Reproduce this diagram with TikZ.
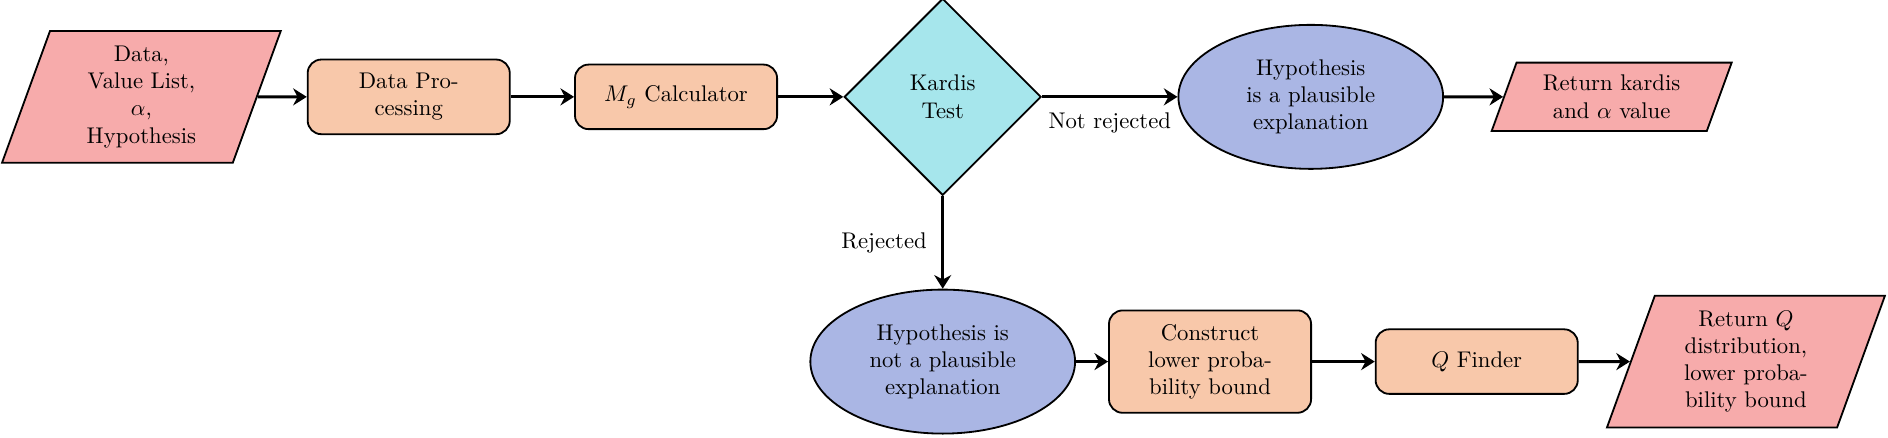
\documentclass[tikz,border=0pt]{standalone}
\usetikzlibrary{shapes.geometric,arrows.meta}
\definecolor{iopink}{RGB}{247,171,171}
\definecolor{procorange}{RGB}{248,200,170}
\definecolor{testcyan}{RGB}{166,230,236}
\definecolor{resultblue}{RGB}{170,182,228}
\begin{document}
\begin{tikzpicture}[scale=1.0,
    io/.style={trapezium, trapezium left angle=70, trapezium right angle=110,
        draw, thick, fill=iopink, text width=2.28cm, align=center,
        minimum height=1.06cm},
    process/.style={rectangle, rounded corners=6pt, draw, thick,
        fill=procorange, minimum width=3.13cm, minimum height=1cm,
        text width=2.5cm, align=center, inner ysep=6pt},
    decision/.style={diamond, draw, thick, fill=testcyan,
        minimum width=3.05cm, minimum height=3.05cm, inner sep=0pt, align=center},
    result/.style={ellipse, draw, thick, fill=resultblue,
        minimum width=4.1cm, minimum height=2.23cm, inner sep=0pt, align=center},
    flow/.style={-{Stealth[length=6pt, width=7.5pt]}, line width=1.4pt}]
    \useasboundingbox (0,0) rectangle (29.24,-6.77);
    % Draw the top row
    \node [io, minimum height=2.04cm] (input) at (2.19,-1.5)
        {Data,\\Value List,\\$\alpha$,\\Hypothesis};
    \node [process] (dataproc) at (6.33,-1.5) {Data Pro-\\cessing};
    \node [process] (mgcalc) at (10.47,-1.5) {$M_g$ Calculator};
    \node [decision] (kardis) at (14.6,-1.5) {Kardis\\Test};
    \node [result] (plausible) at (20.3,-1.5) {Hypothesis\\is a plausible\\explanation};
    \node [io] (retkardis) at (24.96,-1.5) {Return kardis\\and $\alpha$ value};
    % Draw the bottom row
    \node [result] (notplausible) at (14.6,-5.6)
        {Hypothesis is\\not a plausible\\explanation};
    \node [process] (construct) at (18.74,-5.6) {Construct\\lower proba-\\bility bound};
    \node [process] (qfinder) at (22.87,-5.6) {$Q$ Finder};
    \node [io, minimum height=2.04cm] (retq) at (27.04,-5.6)
        {Return $Q$\\distribution,\\lower proba-\\bility bound};
    % Draw arrows
    \draw [flow] (input) -- (dataproc);
    \draw [flow] (dataproc) -- (mgcalc);
    \draw [flow] (mgcalc) -- (kardis);
    \draw [flow] (kardis) -- node (notrej) [below=3pt] {Not rejected} (plausible);
    \draw [flow] (plausible) -- (retkardis);
    \draw [flow] (kardis) -- node (rej) [left=3pt] {Rejected} (notplausible);
    \draw [flow] (notplausible) -- (construct);
    \draw [flow] (construct) -- (qfinder);
    \draw [flow] (qfinder) -- (retq);
\end{tikzpicture}
\end{document}
